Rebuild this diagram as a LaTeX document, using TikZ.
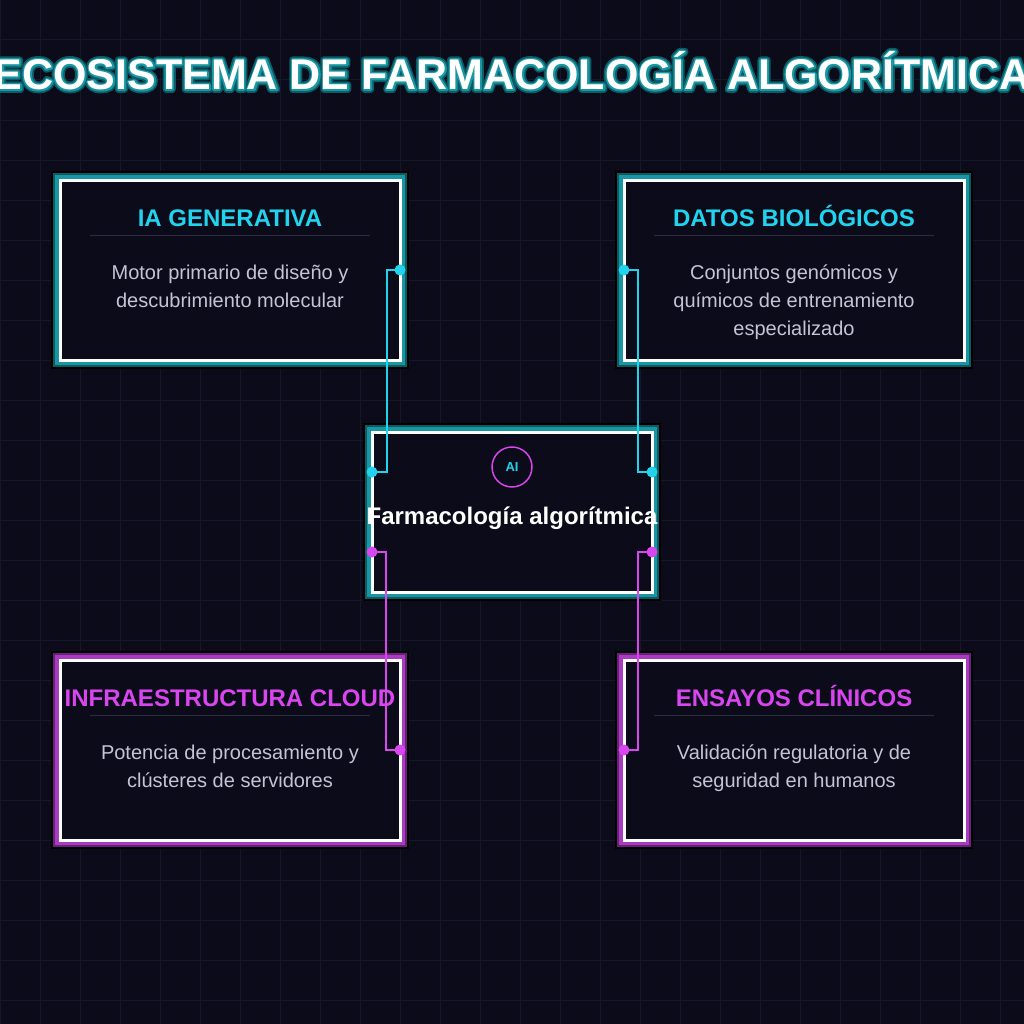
\documentclass[tikz,border=0pt]{standalone}
\usepackage{fontspec}
\setmainfont{Liberation Sans}
\newfontface\glowA[FakeBold=16]{Liberation Sans Bold}
\newfontface\glowB[FakeBold=8]{Liberation Sans Bold}
\usetikzlibrary{calc}
\definecolor{bg}{HTML}{0B0B1A}
\definecolor{gridc}{HTML}{17172A}
\definecolor{cyanc}{HTML}{22D3EE}
\definecolor{magc}{HTML}{D946EF}
\definecolor{descc}{HTML}{C4C4D6}
\definecolor{sepc}{HTML}{2E2E42}
\definecolor{tdark}{HTML}{0C5A62}
\definecolor{tmid}{HTML}{1896A4}
\definecolor{mdark}{HTML}{6A1F7A}
\definecolor{mmid}{HTML}{A83CC0}
\tikzset{
  glowbox/.style n args={2}{rectangle, outer sep=0pt, inner sep=0pt,
    preaction={draw=black, line width=13pt},
    preaction={draw=#1, line width=10pt},
    preaction={draw=#2, line width=7pt},
    fill=bg, draw=white, line width=2.25pt},
  sidebox/.style={minimum width=255pt, minimum height=135pt},
  boxtitle/.style={inner sep=0pt, anchor=base, font=\fontsize{18pt}{20pt}\selectfont\bfseries},
  desc/.style={inner sep=0pt, anchor=base, text=descc, font=\fontsize{15pt}{21pt}\selectfont},
  sepline/.style={draw=sepc, line width=0.75pt},
  gridline/.style={draw=gridc, line width=0.75pt},
  cconn/.style={draw=cyanc, line width=1.5pt},
  mconn/.style={draw=magc, line width=1.5pt},
  titlefont/.style={inner sep=0pt, anchor=base, font=\fontsize{32.25pt}{36pt}\selectfont\bfseries},
}
\begin{document}
\begin{tikzpicture}[x=0.75pt, y=-0.75pt]
\fill[bg] (0,0) rectangle (1024,1024);
\useasboundingbox (0,0) rectangle (1024,1024);
\foreach \i in {0,40,...,1000} {
  \draw[gridline] (\i,0) -- (\i,1024);
  \draw[gridline] (0,\i) -- (1024,\i);
}
% title
\begin{scope}[line join=round, miter limit=1]
\node[titlefont, text=tdark, font=\fontsize{32.25pt}{36pt}\glowA] (title-glow) at (512,89.5) {\pgfsetroundjoin\pgfsetmiterlimit{1}ECOSISTEMA DE FARMACOLOGÍA ALGORÍTMICA};
\node[titlefont, text=tmid, font=\fontsize{32.25pt}{36pt}\glowB] (title-edge) at (512,89.5) {\pgfsetroundjoin\pgfsetmiterlimit{1}ECOSISTEMA DE FARMACOLOGÍA ALGORÍTMICA};
\end{scope}
\node[titlefont, text=white] (title) at (512,89.5) {ECOSISTEMA DE FARMACOLOGÍA ALGORÍTMICA};

% boxes
\node[glowbox={tdark}{tmid}, sidebox] (ia) at (230,270) {};
\node[glowbox={tdark}{tmid}, sidebox] (datos) at (794,270) {};
\node[glowbox={mdark}{mmid}, sidebox] (infra) at (230,750) {};
\node[glowbox={mdark}{mmid}, sidebox] (ensayos) at (794,750) {};
\node[glowbox={tdark}{tmid}, minimum width=210pt, minimum height=120pt] (core) at (512,512) {};

% box texts
\node[boxtitle, text=cyanc] (ia-t) at (230,226.7) {IA GENERATIVA};
\draw[sepline] (90,235) -- (370,235);
\node[desc] (ia-d1) at (230,279) {Motor primario de diseño y};
\node[desc] (ia-d2) at (230,307) {descubrimiento molecular};

\node[boxtitle, text=cyanc] (datos-t) at (794,226.7) {DATOS BIOLÓGICOS};
\draw[sepline] (654,235) -- (934,235);
\node[desc] (datos-d1) at (794,279) {Conjuntos genómicos y};
\node[desc] (datos-d2) at (794,307) {químicos de entrenamiento};
\node[desc] (datos-d3) at (794,335) {especializado};

\node[boxtitle, text=magc] (infra-t) at (230,706.7) {INFRAESTRUCTURA CLOUD};
\draw[sepline] (90,715) -- (370,715);
\node[desc] (infra-d1) at (230,759) {Potencia de procesamiento y};
\node[desc] (infra-d2) at (230,787) {clústeres de servidores};

\node[boxtitle, text=magc] (ensayos-t) at (794,706.7) {ENSAYOS CLÍNICOS};
\draw[sepline] (654,715) -- (934,715);
\node[desc] (ensayos-d1) at (794,759) {Validación regulatoria y de};
\node[desc] (ensayos-d2) at (794,787) {seguridad en humanos};

% center
\node[circle, draw=magc, line width=1.1pt, minimum size=30pt, inner sep=0pt, text=cyanc,
  font=\fontsize{9.75pt}{10pt}\selectfont\bfseries] (ai) at (512,467) {AI};
\node[inner sep=0pt, anchor=base, text=white, font=\fontsize{18pt}{20pt}\selectfont\bfseries] (core-t) at (512,524) {Farmacología algorítmica};

% connectors
\coordinate (cl1) at ($(core.west)+(0,-40)$);
\coordinate (cl2) at ($(core.west)+(0,40)$);
\coordinate (cr1) at ($(core.east)+(0,-40)$);
\coordinate (cr2) at ($(core.east)+(0,40)$);
\draw[cconn] (ia.east) -- ++(-13,0) |- (cl1);
\draw[cconn] (datos.west) -- ++(14,0) |- (cr1);
\draw[mconn] (cl2) -- ++(14,0) |- (infra.east);
\draw[mconn] (cr2) -- ++(-14,0) |- (ensayos.west);
\foreach \p in {ia.east, datos.west, cl1, cr1} \fill[cyanc] (\p) circle[radius=5.5];
\foreach \p in {infra.east, ensayos.west, cl2, cr2} \fill[magc] (\p) circle[radius=5.5];
\end{tikzpicture}
\end{document}
